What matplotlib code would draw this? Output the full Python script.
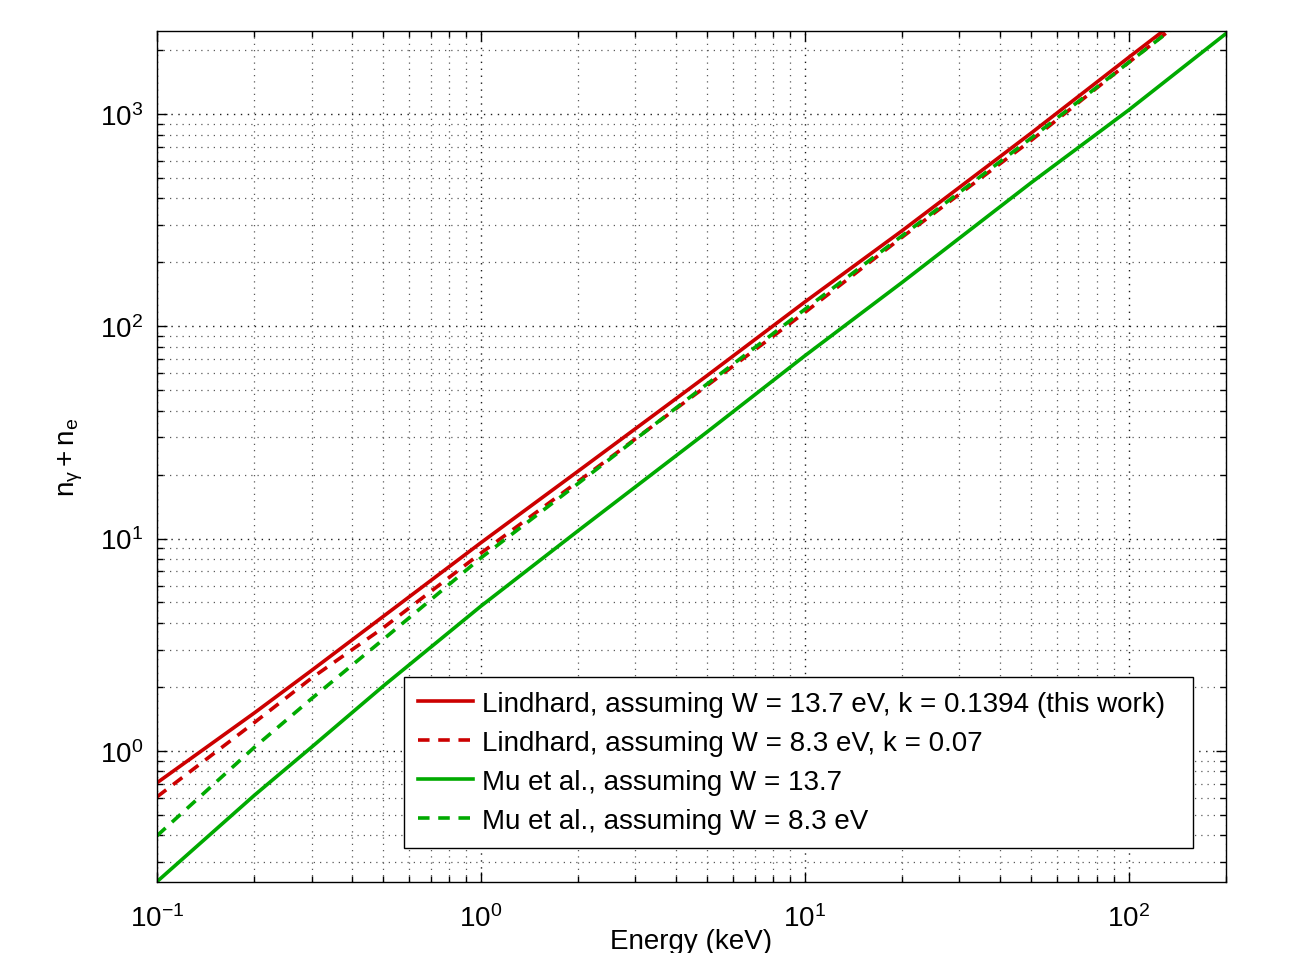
import matplotlib
matplotlib.use('Agg')
import matplotlib.pyplot as plt
from matplotlib.ticker import LogLocator, NullFormatter

plt.rcParams['font.family'] = ['Liberation Sans', 'DejaVu Sans']
plt.rcParams['mathtext.fontset'] = 'custom'
plt.rcParams['mathtext.rm'] = 'Liberation Sans'
plt.rcParams['mathtext.it'] = 'Liberation Sans:italic'
plt.rcParams['axes.unicode_minus'] = False
plt.rcParams['font.size'] = 20

# energies (keV) and n_gamma + n_e
energy = [0.1, 0.2, 0.3, 0.5, 1, 2, 5, 10, 20, 50, 100, 200]
lindhard_137 = [0.707, 1.51, 2.39, 4.30, 9.55, 20.8, 58.6, 130, 282, 812, 1844, 4150]
lindhard_83 = [0.607, 1.36, 2.20, 3.80, 8.53, 18.6, 52.6, 116, 263, 750, 1746, 4010]
mu_137 = [0.242, 0.618, 1.04, 2.02, 4.8, 10.9, 31.8, 72.5, 161, 474, 1042, 2393]
mu_83 = [0.398, 1.04, 1.76, 3.35, 8.1, 18.2, 53.5, 120, 267, 769, 1746, 3950]

labels = ['Lindhard, assuming W = 13.7 eV, k = 0.1394 (this work)',
          'Lindhard, assuming W = 8.3 eV, k = 0.07',
          'Mu et al., assuming W = 13.7',
          'Mu et al., assuming W = 8.3 eV']

red = '#cc0000'
green = '#00aa00'
lw = 2.6
dash = (3.2, 2.4)

fig = plt.figure(figsize=(13.13, 9.54), dpi=100)
ax = fig.add_axes([157/1313, 71/954, 1069/1313, 851/954])

ax.loglog(energy, lindhard_137, color=red, lw=lw, label=labels[0])
ax.loglog(energy, lindhard_83, color=red, lw=lw, dashes=dash, label=labels[1])
ax.loglog(energy, mu_137, color=green, lw=lw, label=labels[2])
ax.loglog(energy, mu_83, color=green, lw=lw, dashes=dash, label=labels[3])

ax.set_xlim(0.1, 200)
ax.set_ylim(0.241, 2460)

ax.xaxis.set_major_locator(LogLocator(base=10, numticks=10))
ax.xaxis.set_minor_locator(LogLocator(base=10, subs=range(2, 10), numticks=20))
ax.yaxis.set_major_locator(LogLocator(base=10, numticks=10))
ax.yaxis.set_minor_locator(LogLocator(base=10, subs=range(2, 10), numticks=20))
ax.xaxis.set_minor_formatter(NullFormatter())
ax.yaxis.set_minor_formatter(NullFormatter())

ax.grid(True, which='major', linestyle=(0, (1, 4)), color='0.1', lw=1.0)
ax.grid(True, which='minor', linestyle=(0, (1, 4)), color='0.35', lw=0.9)
ax.tick_params(which='both', direction='in', top=True, right=True, width=1)
ax.tick_params(which='major', length=7, labelsize=20)
ax.tick_params(axis='x', which='major', pad=16)
ax.tick_params(axis='y', which='major', pad=10)
ax.tick_params(which='minor', length=4)
for s in ax.spines.values():
    s.set_linewidth(1)

ax.set_xlabel('Energy (keV)', fontsize=20, labelpad=-3)
ax.set_ylabel(r'$\mathregular{n_{\gamma} + n_{e}}$', fontsize=20, labelpad=11)

leg = ax.legend(loc='lower left', bbox_to_anchor=(0.2311, 0.040, 0.738, 0.2),
                mode='expand', fontsize=20,
                frameon=True, fancybox=False, framealpha=1, edgecolor='black',
                handlelength=2.0, handletextpad=0.3, labelspacing=0.47,
                borderpad=0.5, borderaxespad=0)
leg.get_frame().set_linewidth(1)

fig.savefig('out.png', dpi=100)
